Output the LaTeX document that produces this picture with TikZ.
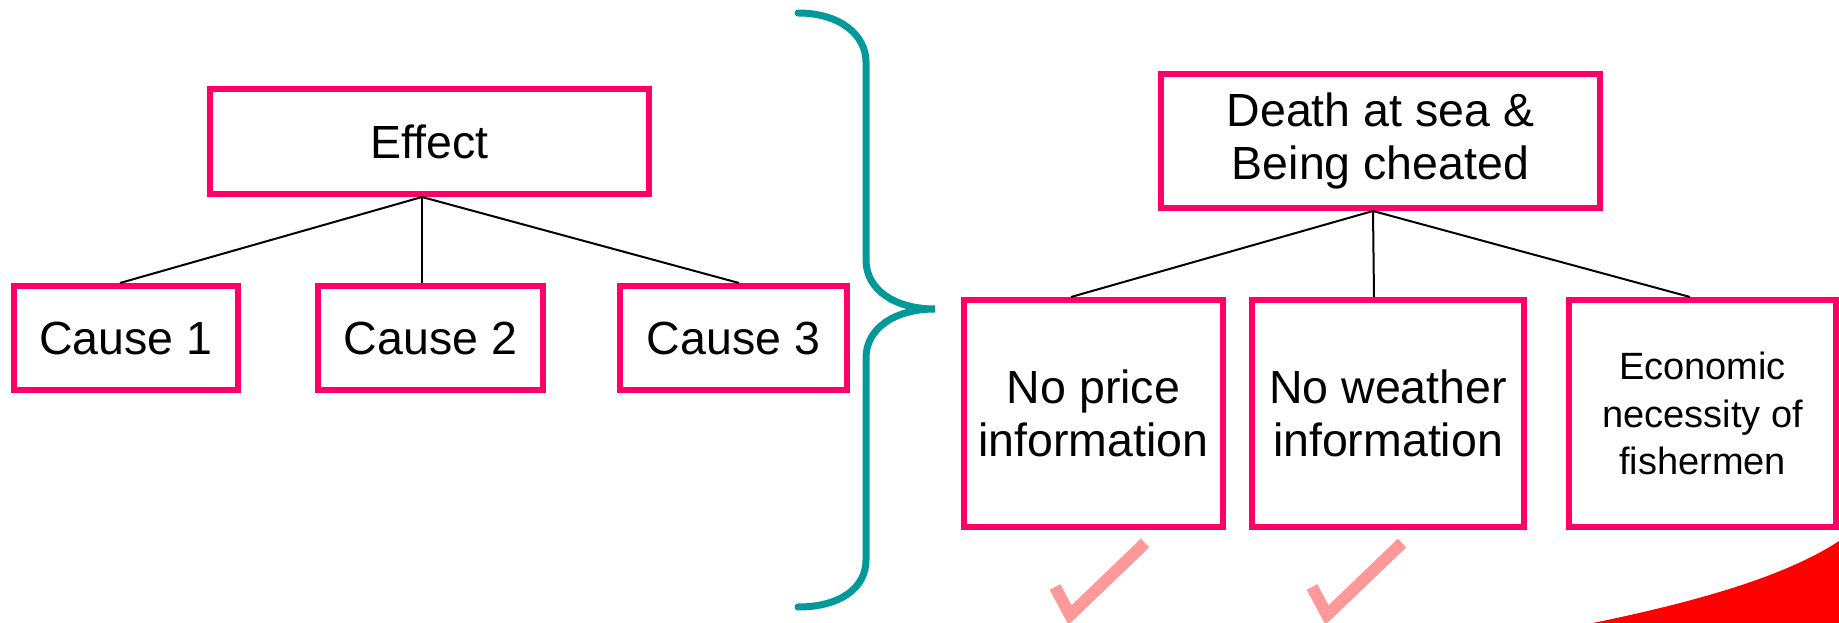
\documentclass[tikz,border=0pt]{standalone}
\usepackage{fontspec}
\setmainfont{Liberation Sans}
\definecolor{boxpink}{HTML}{FF0066}
\definecolor{braceteal}{HTML}{009999}
\definecolor{tickpink}{HTML}{FF9999}
\definecolor{wedgered}{HTML}{FF0000}
\tikzset{
  box/.style={draw=boxpink, line width=6pt, fill=white, inner sep=0pt,
    align=center, font=\fontsize{46.5}{53.3}\selectfont},
  smallbox/.style={box, font=\fontsize{38}{47.5}\selectfont},
  link/.style={draw=black, line width=2pt},
  tick/.style={draw=tickpink, line width=12pt, miter limit=10},
  brace/.style={draw=braceteal, line width=7pt, line cap=round}
}
\begin{document}
\begin{tikzpicture}[x=1pt, y=-1pt]
  \clip (0,0) rectangle (1839,623);
  \fill[white] (0,0) rectangle (1839,623);

  % generic tree
  \node[box, minimum width=439pt, minimum height=105pt] (effect) at (429.5,141.5) {Effect};
  \node[box, minimum width=224pt, minimum height=104pt] (c1) at (126,338) {Cause 1};
  \node[box, minimum width=225pt, minimum height=104pt] (c2) at (430.5,338) {Cause 2};
  \node[box, minimum width=227pt, minimum height=104pt] (c3) at (733.5,338) {Cause 3};
  \draw[link] ([xshift=-7.5pt]effect.south) -- ([xshift=-6pt]c1.north);
  \draw[link] ([xshift=-7.5pt]effect.south) -- ([xshift=-8.5pt]c2.north);
  \draw[link] ([xshift=-7.5pt]effect.south) -- ([xshift=5.5pt]c3.north);

  % curly brace
  \draw[brace] (798,13) .. controls (840,13) and (866,35) .. (866,62)
    -- (866,260) .. controls (866,290) and (895,309) .. (935,309)
    .. controls (895,309) and (866,328) .. (866,358)
    -- (866,560) .. controls (866,588) and (840,607) .. (798,607);

  % applied tree
  \node[box, minimum width=439pt, minimum height=134pt] (death) at (1380.5,141)
    {Death at sea \&\\Being cheated};
  \node[box, minimum width=259pt, minimum height=227pt] (np) at (1093.5,413.5)
    {No price\\information};
  \node[box, minimum width=272pt, minimum height=227pt] (nw) at (1388,413.5)
    {No weather\\information};
  \node[smallbox, minimum width=267pt, minimum height=227pt] (ec) at (1702.5,413.5)
    {Economic\\necessity of\\fishermen};
  \draw[link] ([xshift=-7.5pt]death.south) -- ([xshift=-22.5pt]np.north);
  \draw[link] ([xshift=-7.5pt]death.south) -- ([xshift=-14pt]nw.north);
  \draw[link] ([xshift=-7.5pt]death.south) -- ([xshift=-12.5pt]ec.north);

  % ticks
  \draw[tick] (1055,587) -- (1070,615) -- (1145,543);
  \draw[tick] (1312,587) -- (1327,615) -- (1402,543);

  % red wedge
  \fill[wedgered] (1593,623) .. controls (1680,605) and (1780,580) .. (1839,541)
    -- (1845,630) -- (1593,630) -- cycle;
\end{tikzpicture}
\end{document}
